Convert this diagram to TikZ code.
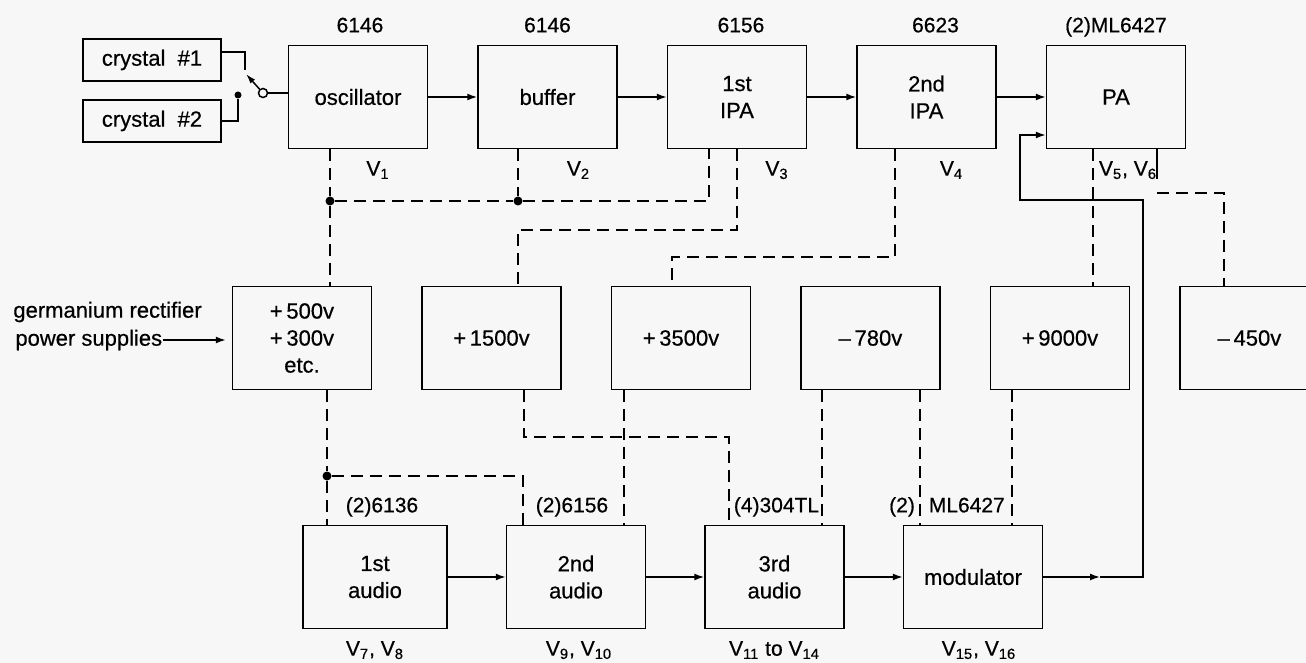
\documentclass[tikz,border=0pt]{standalone}
\usepackage{fontspec}
\setmainfont{Liberation Sans}[FakeBold=0.5]
\usepackage{tikz}
\usetikzlibrary{arrows.meta,positioning,calc}

\begin{document}
\begin{tikzpicture}[
			x=0.5pt, y=-0.5pt,
			node distance=68.5pt and 24.5pt,
			font=\fontsize{11}{13.5}\selectfont,
			block/.style={rectangle, draw, line width=0.75pt, minimum width=69.5pt, minimum height=51.5pt, align=center, inner sep=2pt},
			xtal/.style={rectangle, draw, line width=0.75pt, minimum width=69pt, minimum height=21pt},
			tube/.style={inner sep=1pt, text height=8pt, text depth=2.5pt, font=\fontsize{10.5}{12}\selectfont},
			line/.style={draw, line width=0.75pt, -{Latex[length=5pt,width=3.5pt]}},
			wire/.style={draw, line width=0.75pt},
			feed/.style={draw, line width=0.75pt, dash pattern=on 6pt off 3.5pt},
			dot/.style={circle, fill, inner sep=0pt, minimum size=4.5pt}
			]
			\path[use as bounding box, fill=black!3] (0,0) rectangle (1306,663);

			% RF chain
			\node [block] (osc) at (358,97) {oscillator};
			\node [block, right=of osc] (buf) {buffer};
			\node [block, right=of buf] (ipa1) {1st\\IPA};
			\node [block, right=of ipa1] (ipa2) {2nd\\IPA};
			\node [block, right=of ipa2] (pa) {PA};
			\node [xtal] (xtal1) at (152,60) {crystal\ \ \#1};
			\node [xtal] (xtal2) at (152,121) {crystal\ \ \#2};

			% Power supplies
			\node [block] (ps500) at (302,338) {+\,500v\\+\,300v\\etc.};
			\node [block, right=of ps500] (ps1500) {+\,1500v};
			\node [block, right=of ps1500] (ps3500) {+\,3500v};
			\node [block, right=of ps3500] (ps780) {\textendash\,780v};
			\node [block, right=of ps780] (ps9000) {+\,9000v};
			\node [block, right=of ps9000] (ps450) {\textendash\,450v};
			\node [anchor=west, inner sep=0pt] (ger) at (13,312) {germanium rectifier};
			\node [anchor=west, inner sep=0pt] (supp) at (15,340) {power supplies};

			% Audio chain
			\node [block, minimum width=72pt] (aud1) at (375,577) {1st\\audio};
			\node [block, right=29pt of aud1] (aud2) {2nd\\audio};
			\node [block, right=29pt of aud2] (aud3) {3rd\\audio};
			\node [block, right=29pt of aud3] (mod) {modulator};

			% Tube labels
			\node [tube, above=2.5pt of osc, xshift=1pt] {6146};
			\node [tube, above=2.5pt of buf] {6146};
			\node [tube, above=2.5pt of ipa1, xshift=2pt] {6156};
			\node [tube, above=2.5pt of ipa2, xshift=4.5pt] {6623};
			\node [tube, above=2.5pt of pa] {(2)ML6427};
			\node [tube, below=4pt of osc, xshift=10pt] {V\textsubscript{1}};
			\node [tube, below=4pt of buf, xshift=15.5pt] {V\textsubscript{2}};
			\node [tube, below=4pt of ipa1, xshift=20pt] {V\textsubscript{3}};
			\node [tube, below=4pt of ipa2, xshift=12.5pt] {V\textsubscript{4}};
			\node [tube, below=4pt of pa, xshift=6pt] {V\textsubscript{5},\ V\textsubscript{6}};
			\node [tube, above=2.5pt of aud1, xshift=3.5pt] {(2)6136};
			\node [tube, above=2.5pt of aud2, xshift=-2pt] {(2)6156};
			\node [tube, above=2.5pt of aud3, xshift=1pt] {(4)304TL};
			\node [tube, above=2.5pt of mod, xshift=-13pt] {(2)\hspace{7pt}ML6427};
			\node [tube, below=4pt of aud1] {V\textsubscript{7},\ V\textsubscript{8}};
			\node [tube, below=4pt of aud2, xshift=1.5pt] {V\textsubscript{9},\ V\textsubscript{10}};
			\node [tube, below=4pt of aud3] {V\textsubscript{11} to V\textsubscript{14}};
			\node [tube, below=4pt of mod, xshift=3pt] {V\textsubscript{15},\ V\textsubscript{16}};

			% Crystal switch
			\node [circle, draw, line width=0.75pt, inner sep=0pt, minimum size=4.5pt] (piv) at (263,93) {};
			\node [dot, minimum size=3.5pt] (ct2) at (238,95) {};
			\coordinate (ct1) at (245,70);
			\coordinate (arm) at (246,74);
			\path [wire] ($(xtal1.east)+(0,-8)$) -| (ct1);
			\path [wire] (xtal2.east) -| (ct2);
			\path [wire, -{Latex[length=5pt,width=3pt]}] (piv) -- (arm);
			\path [wire] (piv) -- (osc.west |- piv);

			% Signal path
			\path [line] (osc) -- (buf);
			\path [line] (buf) -- (ipa1);
			\path [line] (ipa1) -- (ipa2);
			\path [line] (ipa2) -- (pa);
			\path [line] (aud1) -- (aud2);
			\path [line] (aud2) -- (aud3);
			\path [line] (aud3) -- (mod);
			\path [line] (supp.east) -- ([xshift=-3pt]supp.east -| ps500.west);
			\coordinate (k1) at (1100,0);
			\coordinate (k2) at (1143,200);
			\coordinate (k3) at (1020,200);
			\coordinate (k4) at (1020,135);
			\path [line] (mod.east) -- (mod.east -| k1);
			\path [line] (mod.east -| k1) -- (mod.east -| k2) -- (k2) -- (k3) -- (k4) -- (k4 -| pa.west);

			% Supply leads
			\node [dot] (j1) at (330,201) {};
			\node [dot] (j2) at (518,201) {};
			\coordinate (c1) at (709,201);
			\path [feed] (osc.south -| j1) -- (j1) -- (ps500.north -| j1);
			\path [feed] (buf.south -| j2) -- (j2);
			\path [feed] (j1) -- (j2) -- (c1) -- (ipa1.south -| c1);
			\coordinate (c2) at (737,230);
			\coordinate (c3) at (518,230);
			\path [feed] (ipa1.south -| c2) -- (c2) -- (c3) -- (ps1500.north -| c3);
			\coordinate (c4) at (895,257);
			\coordinate (c5) at (672,257);
			\path [feed] (ipa2.south -| c4) -- (c4) -- (c5) -- (ps3500.north -| c5);
			\coordinate (c6) at (1093,200);
			\path [feed] (pa.south -| c6) -- (ps9000.north -| c6);
			\coordinate (c7) at (1157,193);
			\coordinate (c8) at (1224,193);
			\path [wire] (pa.south -| c7) -- ++(0,30);
			\path [feed] (c7) -- (c8) -- (ps450.north -| c8);

			\node [dot] (j3) at (327,476) {};
			\coordinate (c9) at (523,476);
			\path [feed] (ps500.south -| j3) -- (j3) -- (aud1.north -| j3);
			\path [feed] (j3) -- (c9) -- (aud2.north -| c9);
			\coordinate (c10) at (524,437);
			\coordinate (c11) at (729,437);
			\path [feed] (ps1500.south -| c10) -- (c10) -- (c11) -- (aud3.north -| c11);
			\coordinate (c12) at (624,0);
			\coordinate (c13) at (822,0);
			\coordinate (c14) at (920,0);
			\coordinate (c15) at (1012,0);
			\path [feed] (ps3500.south -| c12) -- (aud2.north -| c12);
			\path [feed] (ps780.south -| c13) -- (aud3.north -| c13);
			\path [feed] (ps780.south -| c14) -- (mod.north -| c14);
			\path [feed] (ps9000.south -| c15) -- (mod.north -| c15);
		\end{tikzpicture}
\end{document}
